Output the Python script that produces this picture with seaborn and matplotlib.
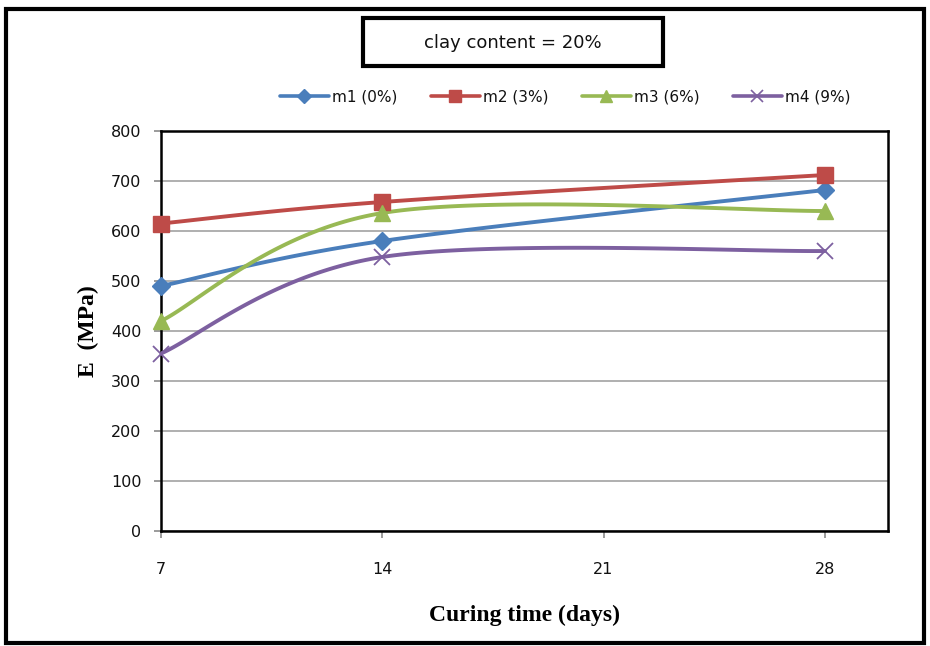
import numpy as np
import pandas as pd
import matplotlib
matplotlib.use("Agg")
import matplotlib.pyplot as plt
from matplotlib.patches import Rectangle
from matplotlib.lines import Line2D
import seaborn as sns

# ---- data ----
days = [7, 14, 28]
m1 = [490, 580, 682]
m2 = [615, 658, 712]
m3 = [420, 636, 640]
m4 = [355, 548, 560]
series_names = ["m1 (0%)", "m2 (3%)", "m3 (6%)", "m4 (9%)"]
x_ticks = [7, 14, 21, 28]
y_ticks = [0, 100, 200, 300, 400, 500, 600, 700, 800]
title_text = "clay content = 20%"

colors = ["#4A7EBB", "#BE4B48", "#98B954", "#7D60A0"]
markers = ["D", "s", "^", "x"]
msizes = [9, 11.5, 12, 12]

sns.set_theme(style="white")
plt.rcParams["font.family"] = ["DejaVu Sans"]

fig = plt.figure(figsize=(9.3, 6.46), dpi=100)
ax = fig.add_axes([161 / 930, 1 - 531 / 646, 727 / 930, 400 / 646])


def excel_smooth(xs, ys, n=60):
    P = np.column_stack([xs, ys]).astype(float)
    out = []
    for i in range(len(P) - 1):
        p0 = P[i - 1] if i > 0 else P[i]
        p1 = P[i]
        p2 = P[i + 1]
        p3 = P[i + 2] if i + 2 < len(P) else P[i + 1]
        c1 = p1 + (p2 - p0) / 6.0
        c2 = p2 - (p3 - p1) / 6.0
        t = np.linspace(0, 1, n)[:, None]
        seg = ((1 - t) ** 3) * p1 + 3 * ((1 - t) ** 2) * t * c1 + 3 * (1 - t) * t ** 2 * c2 + t ** 3 * p2
        if i > 0:
            seg = seg[1:]
        out.append(seg)
    out = np.vstack(out)
    return out[:, 0], out[:, 1]


all_series = [m1, m2, m3, m4]
handles = []
for vals, name, c, mk, ms in zip(all_series, series_names, colors, markers, msizes):
    cx, cy = excel_smooth(days, vals)
    curve = pd.DataFrame({"x": cx, "y": cy})
    sns.lineplot(data=curve, x="x", y="y", sort=False, estimator=None, ax=ax,
                 color=c, linewidth=2.8, zorder=3)
    pts = pd.DataFrame({"x": days, "y": vals})
    if mk == "x":
        ax.plot(pts["x"], pts["y"], linestyle="none", marker=mk, ms=ms,
                mew=1.3, color=c, zorder=4, clip_on=False)
    else:
        ax.plot(pts["x"], pts["y"], linestyle="none", marker=mk, ms=ms,
                mec=c, mfc=c, color=c, zorder=4, clip_on=False)
    handles.append(Line2D([0], [0], color=c, lw=2.6, marker=mk, ms=ms * 0.75,
                          mew=1.2 if mk == "x" else 1, label=name))

ax.set_xlim(7, 30)
ax.set_ylim(0, 800)
ax.set_xticks(x_ticks)
ax.set_yticks(y_ticks)
ax.set_xticklabels([str(v) for v in x_ticks])
ax.set_yticklabels([str(v) for v in y_ticks])
ax.grid(axis="y", color="#9A9A9A", linewidth=1.1)
ax.grid(axis="x", visible=False)
ax.set_axisbelow(True)
for s in ax.spines.values():
    s.set_color("black")
    s.set_linewidth(1.8)
    s.set_visible(True)
ax.tick_params(axis="both", which="major", direction="out", length=5,
               color="#8A8A8A", width=1.2, labelsize=11.5, labelcolor="#111111",
               left=True, bottom=True)
ax.tick_params(axis="y", pad=9)
ax.tick_params(axis="x", pad=17)

ax.set_xlabel("Curing time (days)", fontfamily="Liberation Serif",
              fontweight="bold", fontsize=17, labelpad=20, color="black")
ax.set_ylabel("E  (MPa)", fontfamily="Liberation Serif",
              fontweight="bold", fontsize=17, labelpad=9, color="black")

# legend
leg = fig.legend(handles=handles, loc="center", bbox_to_anchor=(565 / 930, 1 - 97 / 646),
                 ncol=4, frameon=False, fontsize=11, handlelength=3.2,
                 columnspacing=2.2, handletextpad=0.2)
for t in leg.get_texts():
    t.set_color("#111111")

# title box
fig.patches.append(Rectangle((363 / 930, 1 - 66 / 646), 300 / 930, 48 / 646,
                             transform=fig.transFigure, fill=False,
                             edgecolor="black", linewidth=3))
fig.text(513 / 930, 1 - 43 / 646, title_text, ha="center", va="center",
         fontsize=13, color="#111111", family=["DejaVu Sans"])

# outer frame
fig.patches.append(Rectangle((6 / 930, 1 - 643 / 646), 918 / 930, 634 / 646,
                             transform=fig.transFigure, fill=False,
                             edgecolor="black", linewidth=3))

fig.savefig("out.png", dpi=100)
